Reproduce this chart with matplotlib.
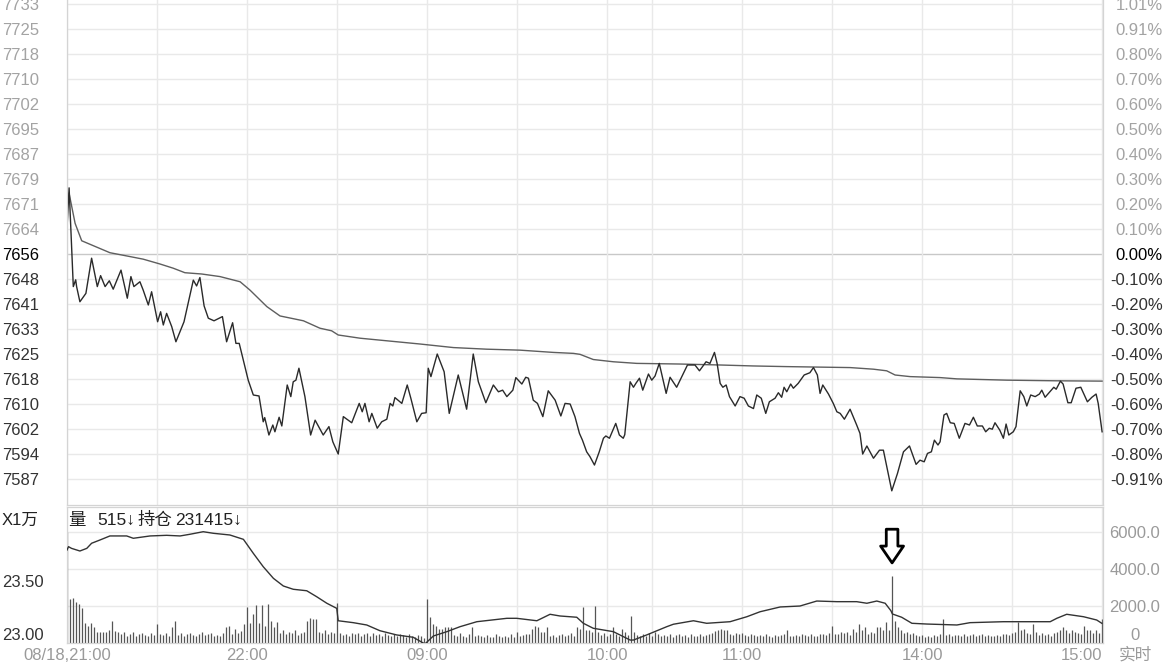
import matplotlib
matplotlib.use('Agg')
import matplotlib.pyplot as plt

plt.rcParams['font.family'] = ['Liberation Sans', 'Noto Sans CJK SC', 'DejaVu Sans']

# ---------------- data ----------------
ref_price = 7656  # previous settlement (0.00%)

# trading-minute index (0 = 21:00 night open, 345 = 15:00 close)
price_t = [0, 0.7, 2.1, 2.9, 3.2, 4.3, 6.3, 8.2, 10.1, 11.2, 12.7, 14.1, 15.4, 18.0, 20.1, 21.3, 22.3,
           24.3, 25.4, 27.1, 28.2, 30.2, 31.2, 32.1, 33.2, 34.9, 36.3, 39.0, 42.1, 43.2, 44.3, 45.7,
           47.1, 49.0, 51.8, 53.2, 55.2, 56.3, 57.4, 60.4, 62.1, 64.0, 65.4, 65.9, 67.3, 68.6, 69.3,
           70.7, 71.6, 73.4, 74.6, 75.4, 76.3, 77.3, 79.3, 81.2, 82.7, 85.4, 87.3, 88.6, 90.4, 92.1,
           94.9, 97.4, 98.4, 99.3, 100.7, 101.6, 103.4, 104.9, 106.6, 107.7, 108.6, 109.3, 111.6,
           113.4, 114.6, 116.6, 118.2, 119.7, 120.4, 121.3, 123.4, 125.7, 127.4, 130.4, 133.2, 135.4,
           137.1, 139.6, 142.1, 143.8, 145.2, 146.6, 148.6, 149.6, 151.6, 152.9, 153.8, 155.4, 156.8,
           158.6, 160.4, 162.7, 164.6, 166.0, 167.7, 169.3, 170.8, 171.8, 173.2, 174.3, 175.8, 177.4,
           178.8, 179.6, 180.8, 182.9, 184.1, 185.4, 185.9, 187.7, 188.8, 189.6, 190.8, 191.9, 193.8,
           194.9, 196.0, 197.4, 199.7, 201.0, 203.2, 206.8, 209.3, 210.8, 213.0, 214.3, 215.8, 216.7,
           217.7, 218.6, 219.7, 220.8, 222.7, 224.3, 225.7, 227.1, 228.8, 229.9, 231.4, 232.9, 234.1,
           236.0, 237.1, 238.2, 239.0, 239.9, 241.2, 242.1, 243.7, 245.7, 247.6, 248.8, 250.1, 251.0,
           251.9, 253.8, 255.4, 256.6, 257.7, 259.1, 261.0, 263.2, 264.3, 265.2, 266.6, 268.8, 270.8,
           272.1, 274.9, 276.8, 278.8, 280.8, 283.0, 284.3, 285.7, 286.8, 288.1, 289.1, 290.3, 291.0,
           292.3, 293.2, 294.4, 295.7, 297.4, 299.3, 300.8, 302.1, 303.4, 305.1, 306.2, 307.4, 308.4,
           309.3, 310.9, 312.1, 313.0, 313.9, 315.4, 316.3, 317.7, 318.9, 319.9, 321.2, 322.7, 324.1,
           324.9, 326.0, 327.6, 328.9, 329.7, 331.1, 332.0, 333.6, 334.7, 336.3, 337.9, 340.1, 341.6,
           343.0, 343.7, 345.0]
price_v = [7664.0, 7676.5, 7645.9, 7648.0, 7645.9, 7641.2, 7643.8, 7654.7, 7645.9, 7649.3, 7645.9,
           7647.7, 7645.1, 7651.0, 7642.3, 7649.0, 7645.9, 7647.4, 7644.8, 7640.2, 7644.3, 7635.0,
           7638.1, 7634.0, 7637.6, 7633.5, 7628.8, 7635.0, 7647.9, 7646.1, 7648.7, 7639.9, 7636.1,
           7635.3, 7636.6, 7628.8, 7634.7, 7628.3, 7628.3, 7616.9, 7612.3, 7612.0, 7604.0, 7605.3,
           7599.9, 7603.0, 7600.9, 7605.4, 7602.7, 7615.4, 7611.8, 7616.4, 7616.9, 7620.6, 7611.8,
           7599.9, 7604.5, 7599.9, 7602.5, 7597.8, 7594.0, 7605.6, 7603.7, 7609.7, 7607.1, 7609.7,
           7604.0, 7606.6, 7602.0, 7604.0, 7604.8, 7609.7, 7608.9, 7611.5, 7609.7, 7615.4, 7611.3,
           7604.0, 7606.6, 7606.8, 7620.6, 7618.0, 7625.0, 7619.5, 7606.6, 7618.5, 7607.9, 7625.0,
           7616.4, 7609.9, 7615.4, 7613.3, 7613.8, 7611.8, 7613.8, 7617.7, 7615.7, 7617.8, 7617.5,
           7610.7, 7609.7, 7605.6, 7613.6, 7610.7, 7605.8, 7609.7, 7609.5, 7605.6, 7600.4, 7598.3,
           7594.7, 7593.2, 7590.6, 7594.7, 7598.9, 7599.6, 7598.9, 7603.5, 7599.9, 7598.9, 7600.0,
           7616.4, 7614.7, 7615.9, 7617.5, 7613.8, 7618.8, 7616.9, 7618.2, 7622.1, 7612.8, 7617.8,
           7614.7, 7621.6, 7621.6, 7619.8, 7622.6, 7622.1, 7625.5, 7622.0, 7615.9, 7614.7, 7615.4,
           7611.8, 7608.9, 7611.8, 7611.3, 7608.9, 7608.1, 7612.3, 7611.3, 7606.6, 7610.2, 7611.3,
           7613.0, 7611.6, 7614.7, 7613.3, 7615.7, 7614.4, 7615.9, 7618.5, 7619.2, 7620.8, 7618.5,
           7612.8, 7615.4, 7612.6, 7609.7, 7607.1, 7606.6, 7604.8, 7607.9, 7603.0, 7600.4, 7594.0,
           7596.5, 7592.7, 7595.2, 7595.2, 7582.6, 7588.0, 7594.7, 7596.5, 7590.8, 7592.1, 7591.6,
           7594.2, 7594.7, 7598.3, 7596.8, 7597.8, 7606.1, 7606.6, 7603.7, 7603.5, 7598.9, 7603.5,
           7603.0, 7605.4, 7602.7, 7602.7, 7600.9, 7602.0, 7601.7, 7603.7, 7601.4, 7598.9, 7603.3,
           7599.9, 7600.9, 7602.5, 7613.6, 7611.8, 7608.9, 7612.3, 7611.8, 7612.6, 7613.8, 7611.6,
           7613.3, 7614.7, 7614.1, 7616.6, 7615.7, 7609.9, 7609.9, 7614.4, 7614.7, 7610.2, 7611.6,
           7612.6, 7609.7, 7600.9]

avg_t = [0.7, 2.7, 4.9, 8.2, 14.3, 19.9, 25.4, 31.0, 35.4, 39.3, 44.9, 51.0, 57.7, 61.0, 66.6, 71.0,
         78.8, 84.3, 88.2, 90.4, 97.7, 106.6, 117.7, 128.8, 139.9, 151.0, 162.1, 168.8, 171.0, 175.4,
         182.1, 189.9, 204.3, 217.7, 228.8, 239.9, 261.0, 268.8, 273.2, 276.0, 281.0, 291.0, 296.6,
         313.2, 329.9, 345.0]
avg_v = [7674.8, 7665.5, 7660.1, 7658.8, 7656.4, 7655.4, 7654.4, 7652.9, 7651.6, 7650.2, 7649.8,
         7649.0, 7647.4, 7644.8, 7639.7, 7636.8, 7635.3, 7633.0, 7632.2, 7630.9, 7629.9, 7629.1,
         7628.1, 7627.0, 7626.5, 7626.2, 7625.5, 7625.2, 7624.9, 7623.3, 7622.6, 7622.1, 7621.9,
         7621.6, 7621.3, 7621.1, 7620.8, 7620.3, 7619.8, 7618.5, 7618.0, 7617.7, 7617.3, 7616.9,
         7616.7, 7616.6]

# open interest (x 10k lots)
oi_t = [0, 0.5, 1.5, 4.3, 6.6, 8.2, 11.0, 14.3, 19.9, 22.1, 27.7, 33.2, 37.7, 41.0, 45.4, 48.8, 54.3,
        58.8, 62.1, 65.4, 68.8, 72.1, 75.4, 79.9, 83.2, 86.6, 89.9, 90.4, 95.4, 99.9, 104.3, 109.9,
        115.4, 119.3, 122.1, 126.6, 131.0, 136.6, 146.6, 149.9, 156.6, 161.0, 164.3, 169.9, 172.1,
        175.4, 182.1, 187.7, 188.8, 193.2, 199.9, 202.1, 208.8, 213.2, 221.0, 226.6, 231.0, 237.7,
        244.3, 249.9, 256.6, 263.2, 266.6, 269.9, 272.7, 274.6, 275.1, 278.2, 281.6, 286.6, 296.6,
        301.0, 312.1, 327.7, 329.9, 333.2, 338.8, 343.2, 344.9]
oi_v = [23.792, 23.824, 23.808, 23.783, 23.808, 23.856, 23.887, 23.925, 23.925, 23.903, 23.925,
        23.931, 23.925, 23.941, 23.965, 23.950, 23.934, 23.893, 23.761, 23.635, 23.525, 23.453,
        23.422, 23.408, 23.352, 23.290, 23.242, 23.125, 23.107, 23.085, 23.031, 22.991, 22.969,
        22.906, 22.981, 23.022, 23.069, 23.116, 23.148, 23.148, 23.125, 23.186, 23.170, 23.158,
        23.101, 23.054, 23.022, 22.943, 22.943, 22.991, 23.069, 23.092, 23.125, 23.101, 23.116,
        23.163, 23.210, 23.255, 23.264, 23.311, 23.305, 23.305, 23.290, 23.311, 23.290, 23.220,
        23.189, 23.158, 23.101, 23.094, 23.085, 23.107, 23.116, 23.116, 23.148, 23.186, 23.163,
        23.132, 23.101]

# per-minute volume (lots), minute 0..345
volume = [6000, 2400, 2450, 2200, 2100, 1870, 1080, 940, 1080, 850,
          610, 580, 610, 610, 720, 1200, 670, 580, 490, 610,
          400, 490, 580, 400, 490, 540, 450, 380, 520, 430,
          1030, 480, 420, 560, 390, 850, 1170, 450, 520, 380,
          470, 560, 430, 380, 500, 610, 420, 470, 540, 400,
          450, 380, 520, 850, 900, 480, 760, 520, 640, 1030,
          1930, 1100, 1570, 2050, 1100, 2050, 940, 2100, 1200, 850,
          1150, 560, 720, 480, 610, 520, 690, 430, 560, 610,
          1200, 1330, 1300, 1300, 620, 540, 700, 480, 590, 520,
          2160, 560, 430, 500, 380, 520, 460, 550, 400, 470,
          520, 390, 560, 430, 480, 380, 530, 450, 390, 480,
          360, 500, 420, 340, 470, 380, 300, 420, 360, 250,
          2380, 1390, 1030, 940, 760, 760, 850, 880, 850, 430,
          380, 520, 400, 310, 470, 850, 360, 430, 380, 300,
          420, 350, 300, 460, 390, 320, 400, 350, 470, 300,
          580, 380, 420, 500, 460, 760, 940, 880, 580, 610,
          850, 380, 450, 330, 410, 500, 370, 430, 520, 390,
          850, 760, 1930, 680, 720, 600, 2020, 600, 430, 520,
          400, 470, 850, 500, 380, 760, 600, 430, 1480, 600,
          420, 360, 470, 400, 520, 380, 600, 500, 360, 430,
          380, 460, 350, 420, 500, 370, 430, 340, 470, 380,
          400, 460, 380, 430, 500, 560, 640, 700, 760, 700,
          680, 500, 430, 560, 480, 520, 450, 380, 500, 410,
          360, 440, 380, 470, 400, 330, 450, 380, 420, 500,
          680, 400, 360, 450, 380, 500, 420, 360, 470, 400,
          380, 460, 500, 420, 540, 900, 480, 500, 580, 520,
          600, 450, 760, 600, 1030, 680, 850, 500, 610, 540,
          850, 850, 680, 1120, 700, 3600, 1200, 850, 680, 540,
          600, 500, 540, 450, 380, 420, 300, 380, 340, 420,
          380, 460, 1300, 430, 500, 380, 450, 420, 360, 470,
          380, 430, 500, 360, 420, 470, 380, 450, 400, 360,
          420, 380, 470, 500, 430, 560, 600, 1120, 680, 760,
          520, 480, 1030, 600, 450, 520, 420, 480, 400, 540,
          600, 680, 850, 680, 560, 720, 600, 560, 480, 940,
          680, 680, 560, 680, 560, 1300]

left_labels = ['7587', '7594', '7602', '7610', '7618', '7625', '7633', '7641', '7648', '7656',
               '7664', '7671', '7679', '7687', '7695', '7702', '7710', '7718', '7725', '7733']
right_labels = ['-0.91%', '-0.80%', '-0.70%', '-0.60%', '-0.50%', '-0.40%', '-0.30%', '-0.20%',
                '-0.10%', '0.00%', '0.10%', '0.20%', '0.30%', '0.40%', '0.50%', '0.60%', '0.70%',
                '0.80%', '0.91%', '1.01%']
xtick_pos = [0, 60, 120, 180, 225, 285, 345]
xtick_labels = ['08/18,21:00', '22:00', '09:00', '10:00', '11:00', '14:00', '15:00']
grid_x = [0, 30, 60, 90, 120, 150, 180, 195, 225, 255, 285, 315, 345]
vol_ticks = [0, 2000, 4000, 6000]
vol_labels = ['0', '2000.0', '4000.0', '6000.0']
oi_ticks = [23.00, 23.50]
oi_labels = ['23.00', '23.50']
info_parts = ['量', '515↓', '持仓', '231415↓']
info_px = [68, 97, 138, 175]

# ---------------- layout ----------------
W, H = 1170, 666
fig = plt.figure(figsize=(W / 100, H / 100), dpi=100)
fig.patch.set_facecolor('white')

x_left, x_right = 67, 1103
top_y0, top_y1 = 0, 505
bot_y0, bot_y1 = 507, 643

ax = fig.add_axes([x_left / W, 1 - top_y1 / H, (x_right - x_left) / W, (top_y1 - top_y0) / H])
axr = ax.twinx()
axb = fig.add_axes([x_left / W, 1 - bot_y1 / H, (x_right - x_left) / W, (bot_y1 - bot_y0) / H])
axo = axb.twinx()

GRID = '#e9e9e9'
SPINE = '#d4d4d4'
FS = 12
XMAX = 345.3

step = ref_price * 0.00101
tick_pos = [ref_price + (k - 9) * step for k in range(len(left_labels))]
px_per_unit = 24.95 / step
ylim_top = (ref_price - (top_y1 - 254) / px_per_unit, ref_price + (254 - top_y0) / px_per_unit)

for a in (ax, axr):
    a.set_xlim(0, XMAX)
    a.set_ylim(*ylim_top)
    a.set_xticks([])
ax.set_yticks(tick_pos)
ax.set_yticklabels(left_labels)
axr.set_yticks(tick_pos)
axr.set_yticklabels(right_labels)
ax.tick_params(axis='y', length=0, pad=46.8, labelsize=FS)
axr.tick_params(axis='y', length=0, pad=43.2, labelsize=FS)
for lbl in ax.get_yticklabels():
    lbl.set_horizontalalignment('left')
for lbl in axr.get_yticklabels():
    lbl.set_horizontalalignment('right')


def lab_color(i):
    if i < 9:
        return '#333333'
    if i == 9:
        return '#000000'
    return '#a3a3a3'


for i, lbl in enumerate(ax.get_yticklabels()):
    lbl.set_color(lab_color(i))
for i, lbl in enumerate(axr.get_yticklabels()):
    lbl.set_color(lab_color(i))

for i, p in enumerate(tick_pos):
    ax.axhline(p, color='#c8c8c8' if i == 9 else GRID, lw=1.0, zorder=0)
for gx in grid_x:
    ax.axvline(gx, color=GRID, lw=1.0, zorder=0)

ax.plot(avg_t, avg_v, color='#5e5e5e', lw=1.0, zorder=3)
ax.plot(price_t, price_v, color='#2a2a2a', lw=1.0, zorder=4)

for a in (ax, axr):
    for s in a.spines.values():
        s.set_color(SPINE)
    a.spines['top'].set_visible(False)

# ---------------- lower panel ----------------
vol_x = list(range(len(volume)))
vol_px = 111 / 6000
axb.set_xlim(0, XMAX)
axb.set_ylim(0, (bot_y1 - bot_y0) / vol_px)
axb.yaxis.tick_right()
axb.set_yticks(vol_ticks)
axb.set_yticklabels(vol_labels)
axb.tick_params(axis='y', length=0, pad=23, labelsize=FS, labelcolor='#9a9a9a')
for lbl in axb.get_yticklabels():
    lbl.set_horizontalalignment('center')
axb.get_yticklabels()[0].set_verticalalignment('bottom')

for v in vol_ticks[1:]:
    axb.axhline(v, color=GRID, lw=1.0, zorder=0)
for gx in grid_x:
    axb.axvline(gx, color=GRID, lw=1.0, zorder=0)

axb.vlines(vol_x, 0, volume, color='#555555', lw=0.9, zorder=2)

axb.set_xticks(xtick_pos)
axb.set_xticklabels(xtick_labels)
axb.tick_params(axis='x', length=0, pad=3.5, labelsize=FS, labelcolor='#9a9a9a')
axb.get_xticklabels()[-1].set_horizontalalignment('right')

oi_px = 106.0
oi_lo = 23.00 - (bot_y1 - 634) / oi_px
oi_hi = 23.00 + (634 - bot_y0) / oi_px
axo.set_xlim(0, XMAX)
axo.set_ylim(oi_lo, oi_hi)
axo.yaxis.tick_left()
axo.set_yticks(oi_ticks)
axo.set_yticklabels(oi_labels)
axo.tick_params(axis='y', length=0, pad=46.8, labelsize=FS, labelcolor='#333333')
for lbl in axo.get_yticklabels():
    lbl.set_horizontalalignment('left')
axo.plot(oi_t, oi_v, color='#333333', lw=1.0, zorder=3)

for a in (axb, axo):
    for s in a.spines.values():
        s.set_color(SPINE)

# marker arrow pointing at the volume spike
axb.annotate('', xy=(275, 4330), xytext=(275, 6150),
             arrowprops=dict(arrowstyle='simple,head_length=0.55,head_width=0.75,tail_width=0.38',
                             fc='white', ec='black', lw=2.0, mutation_scale=22,
                             shrinkA=0, shrinkB=0), zorder=6)

fig.text(2 / W, 1 - 520 / H, 'X1万', fontsize=FS, color='#222222', ha='left', va='center')
for part, px in zip(info_parts, info_px):
    fig.text(px / W, 1 - 520 / H, part, fontsize=12.5, color='#222222', ha='left', va='center')
fig.text(1135 / W, 1 - 655 / H, '实时', fontsize=FS, color='#9a9a9a', ha='center', va='center')

fig.savefig('out.png', dpi=100, facecolor='white')
